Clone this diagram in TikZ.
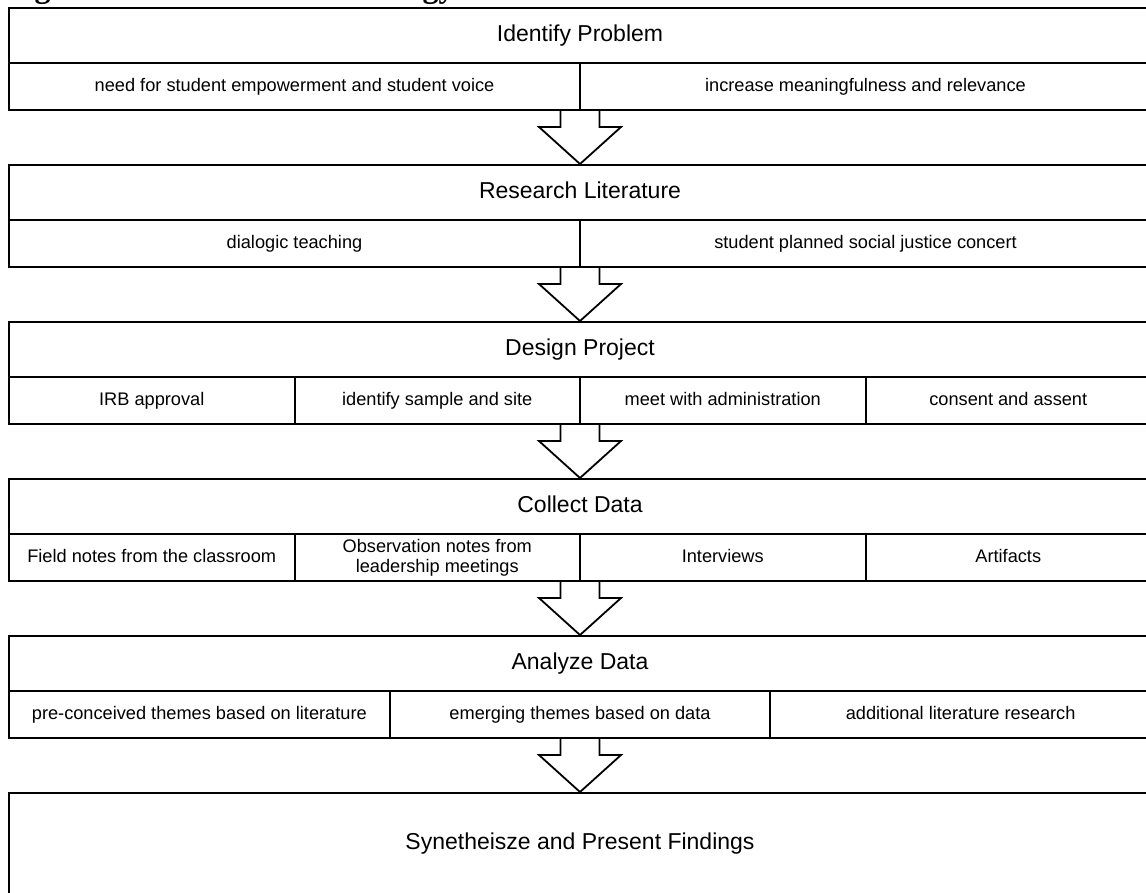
\documentclass[tikz,border=0pt]{standalone}
\usepackage{fontspec}
\setmainfont{Liberation Sans}
\newfontfamily\capfont{Liberation Serif}
\usetikzlibrary{calc}
\tikzset{
  boxline/.style={draw=black, line width=2pt},
  titlecell/.style={boxline, rectangle, anchor=north west, inner sep=0pt,
    minimum width=1142pt, minimum height=55pt,
    text height=16.5pt, text depth=4.8pt,
    font=\fontsize{23}{27}\selectfont},
  subbase/.style={boxline, rectangle, anchor=north west, inner sep=0pt,
    minimum height=47pt, font=\fontsize{18.2}{20}\selectfont},
  subcell/.style={subbase, text height=13.2pt, text depth=3.8pt},
  half/.style={subcell, minimum width=571pt},
  quarter/.style={subcell, minimum width=285.5pt},
  quarterml/.style={subbase, minimum width=285.5pt, align=center},
  third/.style={subcell, minimum width=380.67pt},
  finalcell/.style={boxline, rectangle, anchor=north west, inner sep=0pt,
    minimum width=1142pt, minimum height=102pt,
    text height=16.5pt, text depth=4.8pt,
    font=\fontsize{23}{27}\selectfont},
  blockarrow/.style={draw=black, line width=1.8pt, line join=miter, fill=white},
  captext/.style={anchor=base west, inner sep=0pt,
    font=\capfont\bfseries\fontsize{32}{36}\selectfont}
}
\newcommand{\blockarr}[3]{% title node, lower cell, next node
  \draw[blockarrow]
    ($(#1.center |- #2.south)+(-19.5,0)$) --
    ($(#1.center |- #2.south)+(-19.5,16)$) --
    ($(#1.center |- #2.south)+(-41,16)$) --
    (#3.north) --
    ($(#1.center |- #2.south)+(41,16)$) --
    ($(#1.center |- #2.south)+(19.5,16)$) --
    ($(#1.center |- #2.south)+(19.5,0)$);
}
\begin{document}
\begin{tikzpicture}[x=1pt,y=-1pt]
\useasboundingbox (0,0) rectangle (1146,892);
\fill[white] (0,0) rectangle (1146,892);

% caption (cut off at the top edge, as in the source)
\node[captext] (cap) at (6,-2.5) {Figure 3: Research Methodology Flowchart};

% 1 Identify Problem
\node[titlecell] (t1) at (8,7) {Identify Problem};
\node[half] (c1a) at (8,62) {need for student empowerment and student voice};
\node[half] (c1b) at (579,62) {increase meaningfulness and relevance};

% 2 Research Literature
\node[titlecell] (t2) at (8,164) {Research Literature};
\node[half] (c2a) at (8,219) {dialogic teaching};
\node[half] (c2b) at (579,219) {student planned social justice concert};

% 3 Design Project
\node[titlecell] (t3) at (8,321) {Design Project};
\node[quarter] (c3a) at (8,376) {IRB approval};
\node[quarter] (c3b) at (293.5,376) {identify sample and site};
\node[quarter] (c3c) at (579,376) {meet with administration};
\node[quarter] (c3d) at (864.5,376) {consent and assent};

% 4 Collect Data
\node[titlecell] (t4) at (8,478) {Collect Data};
\node[quarter] (c4a) at (8,533) {Field notes from the classroom};
\node[quarterml] (c4b) at (293.5,533) {Observation notes from\\leadership meetings};
\node[quarter] (c4c) at (579,533) {Interviews};
\node[quarter] (c4d) at (864.5,533) {Artifacts};

% 5 Analyze Data
\node[titlecell] (t5) at (8,635) {Analyze Data};
\node[third] (c5a) at (8,690) {pre-conceived themes based on literature};
\node[third] (c5b) at (388.67,690) {emerging themes based on data};
\node[third] (c5c) at (769.33,690) {additional literature research};

% 6 Synthesize
\node[finalcell] (t6) at (8,792) {Synetheisze and Present Findings};

% block arrows
\blockarr{t1}{c1a}{t2}
\blockarr{t2}{c2a}{t3}
\blockarr{t3}{c3a}{t4}
\blockarr{t4}{c4a}{t5}
\blockarr{t5}{c5a}{t6}
\end{tikzpicture}
\end{document}
